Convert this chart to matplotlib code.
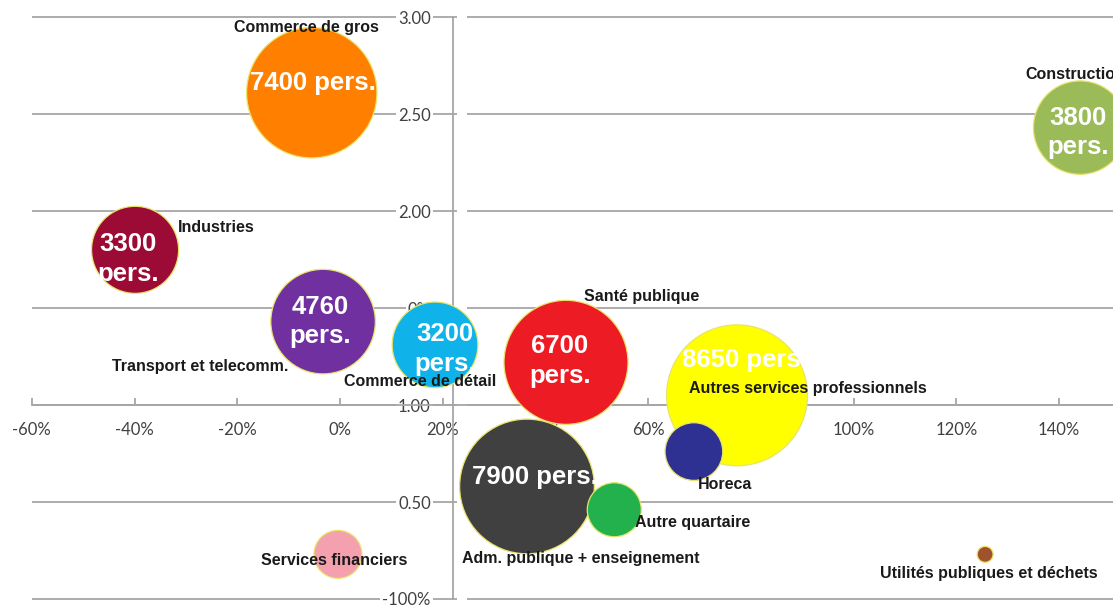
import numpy as np
import matplotlib
matplotlib.use('Agg')
import matplotlib.pyplot as plt

# secteurs : croissance (x, %), indice (y), emplois (taille des bulles)
secteurs = ['Commerce de gros', 'Construction', 'Industries', 'Transport et telecomm.',
            'Commerce de détail', 'Santé publique', 'Autres services professionnels', 'Horeca',
            'Adm. publique + enseignement', 'Autre quartaire', 'Services financiers',
            'Utilités publiques et déchets']
croissance = [-5.5, 144.1, -39.9, -3.3, 18.5, 44.0, 77.3, 68.9, 36.4, 53.4, -0.4, 125.6]
indice = [2.61, 2.43, 1.80, 1.43, 1.31, 1.22, 1.05, 0.76, 0.58, 0.46, 0.23, 0.23]
emplois = [7400, 3800, 3300, 4760, 3200, 6700, 8650, 1450, 7900, 1270, 1000, 110]
etiquettes = ['7400 pers.', '3800\npers.', '3300\npers.', '4760\npers.', '3200\npers.',
              '6700\npers.', '8650 pers.', '', '7900 pers.', '', '', '']
couleurs = ['#FF8000', '#9BBB59', '#9B0B35', '#7030A0', '#10B2EA', '#ED1C24',
            '#FFFF00', '#2E3192', '#404040', '#22B14C', '#F4A0AE', '#A0522D']

x_ticks = [-60, -40, -20, 0, 20, 40, 60, 80, 100, 120, 140]
y_ticks = [0.0, 0.5, 1.0, 1.5, 2.0, 2.5, 3.0]
y_ticklabels = ['-100%', '0.50', '1.00', '0%', '2.00', '2.50', '3.00']

# décalages des textes (pixels : droite, bas) et alignement
decal_nom = [(-5, -65, 'center'), (-55, -53, 'left'), (43, -22, 'left'), (-123, 45, 'center'),
             (-15, 37, 'center'), (76, -66, 'center'), (71, -7, 'center'), (31, 33, 'center'),
             (54, 72, 'center'), (78, 13, 'center'), (-4, 6, 'center'), (4, 19, 'center')]
decal_val = [(1, -10), (-2, 5), (-7, 9), (-3, 0), (10, 4), (-6, -1), (8, -35), (0, 0),
             (8, -9), (0, 0), (0, 0), (0, 0)]

fig = plt.figure(figsize=(11.13, 6.05), dpi=100)
ax = fig.add_axes([0, 0, 1, 1])
ax.set_xlim(-66.2, 150.5)
ax.set_ylim(-0.031, 3.088)

# grille horizontale
ax.hlines(y_ticks, -60, 22.8, color='#A6A6A6', lw=1.3, zorder=1)
ax.hlines(y_ticks, 24.7, 151, color='#A6A6A6', lw=1.3, zorder=1)

for s in ['top', 'right']:
    ax.spines[s].set_visible(False)
ax.spines['left'].set_position(('data', 22))
ax.spines['left'].set_bounds(0, 3)
ax.spines['bottom'].set_position(('data', 1.0))
ax.spines['bottom'].set_bounds(-60, 151)
for s in ['left', 'bottom']:
    ax.spines[s].set_color('#A6A6A6')
    ax.spines[s].set_linewidth(1.3)

ax.set_xticks(x_ticks)
ax.set_xticklabels(['%d%%' % v for v in x_ticks])
ax.set_yticks(y_ticks)
ax.set_yticklabels(y_ticklabels)
ax.tick_params(axis='x', direction='in', length=5, width=1.3, color='#A6A6A6', pad=12,
               labelsize=12, labelcolor='#404040')
ax.tick_params(axis='y', length=0, pad=16, labelsize=12, labelcolor='#404040')
for lab in ax.get_xticklabels() + ax.get_yticklabels():
    lab.set_fontfamily('Lato')
for lab in ax.get_yticklabels():
    lab.set_bbox(dict(facecolor='white', edgecolor='none', pad=1.5))

ax.scatter(croissance, indice, s=np.array(emplois) * 1.19, c=couleurs,
           edgecolors='#E8E36A', linewidths=0.9, zorder=3)

k = 0.72  # px -> points
for i in range(len(secteurs)):
    dx, dy, ha = decal_nom[i]
    ax.annotate(secteurs[i], (croissance[i], indice[i]), xytext=(dx * k, -dy * k),
                textcoords='offset points', ha=ha, va='center', fontsize=11.5,
                fontweight='bold', family='Liberation Sans', color='#1A1A1A', zorder=5)
    if etiquettes[i]:
        vx, vy = decal_val[i]
        ax.annotate(etiquettes[i], (croissance[i], indice[i]), xytext=(vx * k, -vy * k),
                    textcoords='offset points', ha='center', va='center', fontsize=18.5,
                    fontweight='bold', family='Liberation Sans', color='white',
                    linespacing=1.3, zorder=4)

fig.savefig('out.png', dpi=100)
